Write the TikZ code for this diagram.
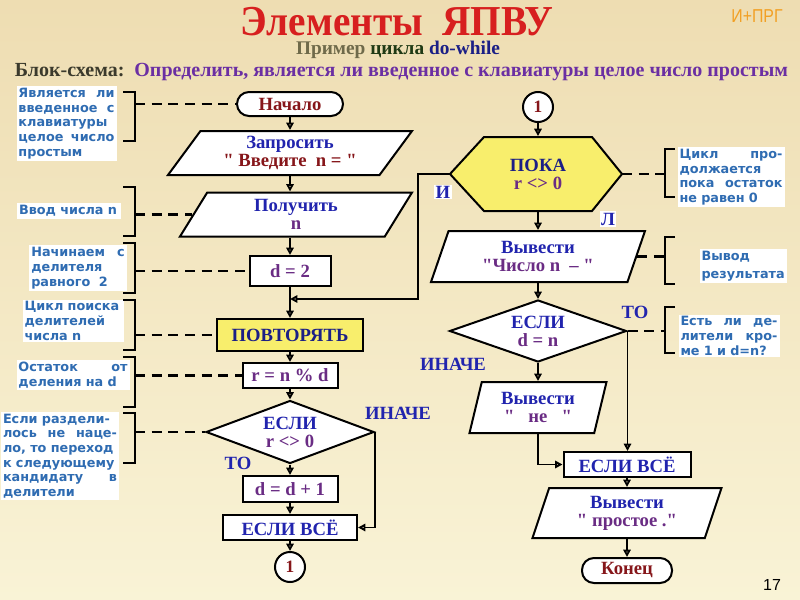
\documentclass[tikz,border=0pt]{standalone}
\usepackage{fontspec}
\setmainfont{Liberation Serif}
\newfontfamily\notefont{DejaVu Sans}
\newfontfamily\tagfont{Liberation Sans}
\usetikzlibrary{
	arrows.meta
	,shapes.geometric
}
\definecolor{bgtop}{HTML}{EEDDB2}
\definecolor{bgbot}{HTML}{F9F3D6}
\definecolor{tred}{HTML}{D71F1F}
\definecolor{orng}{HTML}{F2A024}
\definecolor{olv}{HTML}{6F6A4A}
\definecolor{dgreen}{HTML}{1F3A14}
\definecolor{navy}{HTML}{1B1F86}
\definecolor{kwblue}{HTML}{2124AE}
\definecolor{dred}{HTML}{86161A}
\definecolor{purp}{HTML}{6A2C84}
\definecolor{taskcol}{HTML}{6B2FA3}
\definecolor{dgray}{HTML}{3B3A2C}
\definecolor{notecol}{HTML}{2F6CB2}
\definecolor{yel}{HTML}{F8EE6C}
\newcommand{\qq}{\textquotedbl}

\tikzset{default box/.style={
	draw,
	fill=white,
	line width=1.5pt,
	inner sep=0pt,
	align=center,
	text=kwblue,
	font=\fontsize{14}{13.5}\selectfont\bfseries,
}}
\tikzset{
	>={Triangle[open,length=5.5pt,width=5.5pt]}
	,box/.style={default box}
	,term/.style={default box, rounded corners=9pt, text=dred}
	,io/.style 2 args={default box, trapezium, trapezium stretches body, trapezium left angle=#1, trapezium right angle=#2}
	,cond/.style={default box, diamond, aspect=2.7}
	,conn/.style={default box, circle, minimum size=22.5pt, text=dred, font=\fontsize{13}{13}\selectfont\bfseries}
	,hexa/.style={draw, fill=yel, line width=1.5pt}
	,note/.style={fill=white, inner sep=1.5pt, align=left, text=notecol, font=\notefont\bfseries\fontsize{9.6}{11}\selectfont}
	,lbl/.style={inner sep=1pt, text=kwblue, font=\fontsize{14}{14}\selectfont\bfseries}
	,brk/.style={line width=1.6pt}
	,lead/.style={line width=1.6pt, dash pattern=on 7.5pt off 5pt}
}

\begin{document}
\begin{tikzpicture}[x=0.75pt, y=-0.75pt, line width=1.4pt]

\useasboundingbox (0,0) rectangle (800,600);
\fill[top color=bgtop, bottom color=bgbot] (0,0) rectangle (800,600);

\node[font=\fontsize{32}{32}\selectfont\bfseries, text=tred, inner sep=0pt, text depth=0pt, anchor=base] (title) at (397,35) {\scalebox{0.92}[1]{Элементы~~ЯПВУ}};
\node[font=\tagfont\fontsize{14}{14}\selectfont, text=orng] (tag) at (757,16) {\scalebox{0.85}[1]{И+ПРГ}};
\node[font=\fontsize{14.5}{14.5}\selectfont\bfseries, inner sep=0pt, anchor=base] (sub) at (398,54) {\textcolor{olv}{Пример} \textcolor{dgreen}{цикла} \textcolor{navy}{do-while}};
\node[font=\fontsize{15}{15}\selectfont\bfseries, anchor=west, inner sep=0pt] (task) at (14,72) {\textcolor{dgray}{Блок-схема:}~~\textcolor{taskcol}{Определить, является ли введенное с клавиатуры целое число простым}};
\node[font=\tagfont\fontsize{12}{12}\selectfont] (page) at (772,585) {17};

% left column
\node[term, minimum width=79.5pt, minimum height=18pt] (nach) at (290,104) {Начало};
\node[io={46}{134}, minimum width=183pt, minimum height=33pt] (zap) at (290,153) {Запросить\\\textcolor{dred}{\qq{} Введите~~n = \qq}};
\node[io={48}{132}, minimum width=174pt, minimum height=33pt] (pol) at (296,214.5) {Получить\\\textcolor{purp}{n}};
\node[box, minimum width=60.75pt, minimum height=22.5pt, text=purp] (d2) at (290,271) {d = 2};
\node[box, fill=yel, minimum width=109.5pt, minimum height=24pt, text=navy] (povt) at (290,335) {ПОВТОРЯТЬ};
\node[box, minimum width=71.25pt, minimum height=18.75pt, text=purp] (rnd) at (290,375.5) {r = n \% d};
\node[cond, minimum width=126pt, minimum height=47.25pt] (if1) at (290,432) {ЕСЛИ\\\textcolor{purp}{r <> 0}};
\node[box, minimum width=71.25pt, minimum height=19.5pt, text=purp] (dd1) at (290,489) {d = d + 1};
\node[box, minimum width=100.5pt, minimum height=18.75pt] (eslvs1) at (290,527.5) {ЕСЛИ ВСЁ};
\node[conn] (c1a) at (290,567) {1};

% right column
\node[conn] (c1b) at (538,107) {1};
\coordinate (pokaL) at (450,174);
\coordinate (pokaR) at (622,174);
\draw[hexa] (pokaL) -- (484,137) -- (592,137) -- (pokaR) -- (592,211) -- (484,211) -- cycle;
\node[inner sep=0pt, minimum width=81pt, minimum height=55.5pt, align=center, text=navy, font=\fontsize{14}{13.5}\selectfont\bfseries] (poka) at (538,174) {ПОКА\\\textcolor{purp}{r <> 0}};
\node[io={60}{120}, minimum width=160.5pt, minimum height=38.25pt] (chislo) at (538,256.5) {Вывести\\\textcolor{purp}{\qq Число n~~– \qq}};
\node[cond, minimum width=132.75pt, minimum height=46.5pt] (if2) at (538,331) {ЕСЛИ\\\textcolor{purp}{d = n}};
\node[io={68}{112}, minimum width=102.75pt, minimum height=38.25pt] (ne) at (538,407.5) {Вывести\\\textcolor{purp}{\qq~~ не~~ \qq}};
\node[box, minimum width=95.25pt, minimum height=18.75pt] (eslvs2) at (627,464.5) {ЕСЛИ ВСЁ};
\node[io={64}{116}, minimum width=141.75pt, minimum height=37.5pt] (prost) at (627,513) {Вывести\\\textcolor{purp}{\qq{} простое .\qq}};
\node[term, minimum width=67.5pt, minimum height=18.75pt] (kon) at (627,570.5) {Конец};

\foreach \x/\y in {%
nach/zap, d2/povt, povt/rnd, rnd/if1, if1/dd1, dd1/eslvs1, eslvs1/c1a%
,c1b/poka, poka/chislo, chislo/if2, if2/ne, eslvs2/prost, prost/kon%
}{
	\draw[->] (\x) -- (\y);
}
\draw[->] (zap.south) -- (zap.south |- pol.north);
\draw[->] (d2.north |- pol.south) -- (d2.north);
\draw[->] (if1.east) |- (eslvs1.east);
\draw[->] (if2.east) -- (if2.east |- eslvs2.north);
\draw[->] (ne.south) |- (eslvs2.west);
\coordinate (loop) at (290,299);
\draw[->] (pokaL) -- ++(-32,0) |- (loop);

\begin{scope}[every node/.append style={lbl}]
\node[fill=white] (lI) at (443,192) {И};
\node[fill=white] (lL) at (608,219) {Л};
\node (else1) at (398,413) {ИНАЧЕ};
\node (then1) at (238,463) {ТО};
\node (then2) at (635,312) {ТО};
\node (else2) at (453,364) {ИНАЧЕ};
\end{scope}

% comments
\begin{scope}[every node/.append style={note}]
\node[text width=72pt] (n1) at (66.5,123.5) {Является\hfill ли\\введенное\hfill с\\клавиатуры\\целое\hfill число\\простым};
\node[text width=75pt] (n2) at (69,211) {Ввод числа n};
\node[text width=70pt] (n3) at (78,268) {Начинаем\hfill с\\делителя\\равного~~2};
\node[text width=72.75pt] (n4) at (73,321) {Цикл поиска\\делителей\\числа n};
\node[text width=81.75pt] (n5) at (73,375) {Остаток\hfill от\\деления на d};
\node[text width=85.5pt] (n6) at (60,456) {Если раздели-\\лось\hfill не\hfill наце-\\ло, то переход\\к следующему\\кандидату\hfill в\\делители};
\node[text width=77.25pt] (nA) at (731,177) {Цикл\hfill про-\\должается\\пока\hfill остаток\\не равен 0};
\node[text width=62.25pt, font=\notefont\bfseries\fontsize{9.6}{13.5}\selectfont] (nB) at (743,266) {Вывод\\результата};
\node[text width=72.75pt] (nC) at (729,336) {Есть\hfill ли\hfill де-\\лители\hfill кро-\\ме 1 и d=n?};
\end{scope}

\coordinate (bl) at (135,0);
\coordinate (br) at (665,0);
\foreach \t/\b in {92/141, 187/236, 243/293, 300/350, 357/407, 413/463}{
	\draw[brk] (123,\t) -- (135,\t) -- (135,\b) -- (123,\b);
}
\foreach \t/\b in {149/197, 237/284, 307/353}{
	\draw[brk] (675,\t) -- (665,\t) -- (665,\b) -- (675,\b);
}
\foreach \n in {nach, pol, d2, povt, rnd, if1}{
	\draw[lead] (bl |- \n.west) -- (\n.west);
}
\draw[lead] (pokaR) -- (pokaR -| br);
\draw[lead] (chislo.east) -- (chislo.east -| br);
\draw[lead] (if2.east) -- (if2.east -| br);

\end{tikzpicture}
\end{document}
